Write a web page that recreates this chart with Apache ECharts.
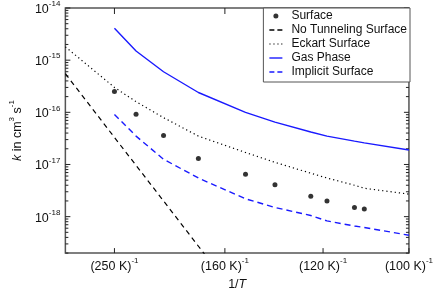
<!DOCTYPE html>
<html><head><meta charset="utf-8">
<script src="https://cdn.jsdelivr.net/npm/echarts@6/dist/echarts.min.js"></script>
<style>html,body{margin:0;padding:0;background:#fff}#c{width:436px;height:296px}</style>
</head><body><div id="c"></div>
<script>
// x axis unit: 1000/T (K^-1)
const xMin = 3, xMax = 10;
const xTickValues = [4.0, 6.25, 8.25, 10.0];
const xTickLabels = ['250', '160', '120', '100'];
const yMin = 2e-19, yMax = 1e-14;
const yMajorTicks = [1e-18, 1e-17, 1e-16, 1e-15, 1e-14];

const surfaceX = [4.0, 4.44, 5.0, 5.71, 6.67, 7.27, 8.0, 8.33, 8.89, 9.09];
const surfaceY = [2.5e-16, 9.2e-17, 3.6e-17, 1.3e-17, 6.5e-18, 4.1e-18, 2.45e-18, 2.0e-18, 1.5e-18, 1.4e-18];

const noTunnelX = [3.0, 4.0, 5.0, 6.0];
const noTunnelY = [5.5e-16, 3.3e-17, 2.0e-18, 1.2e-19];

const eckartX = [3.0, 4.0, 4.44, 5.0, 5.71, 6.67, 7.27, 8.0, 8.33, 8.89, 9.09, 10.0];
const eckartY = [1.8e-15, 3.0e-16, 1.6e-16, 7.9e-17, 3.5e-17, 1.7e-17, 1.1e-17, 6.8e-18, 5.5e-18, 4.0e-18, 3.5e-18, 2.7e-18];

const gasX = [4.0, 4.44, 5.0, 5.71, 6.67, 7.27, 8.0, 8.33, 8.89, 9.09, 10.0];
const gasY = [4.1e-15, 1.5e-15, 6.0e-16, 2.4e-16, 1.0e-16, 6.5e-17, 4.2e-17, 3.5e-17, 2.8e-17, 2.6e-17, 1.9e-17];

const implicitX = [4.0, 4.44, 5.0, 5.71, 6.67, 7.27, 8.0, 8.33, 8.89, 9.09, 10.0];
const implicitY = [9.1e-17, 3.5e-17, 1.26e-17, 5.5e-18, 2.2e-18, 1.5e-18, 1.05e-18, 8.3e-19, 6.6e-19, 6.2e-19, 4.4e-19];

// minor log ticks 2..9 × 10^n inside the y range
const yMinorTicks = [];
for (let e = -19; e <= -15; e++) for (let m = 2; m <= 9; m++) {
  const v = m * Math.pow(10, e);
  if (v >= yMin && v <= yMax) yMinorTicks.push(v);
}
const pair = (xs, ys) => xs.map((x, i) => [x, ys[i]]);

const FONT = 'Liberation Sans, Arial, sans-serif';
const TXT = '#111', AX = '#555', TK = '#222', BLUE = '#1a1aff';
const supRich = {
  base: {fontSize: 12.5, fontFamily: FONT, color: TXT, verticalAlign: 'bottom', lineHeight: 16},
  sup: {fontSize: 8, fontFamily: FONT, color: TXT, verticalAlign: 'top', lineHeight: 16},
  it: {fontSize: 12.5, fontFamily: FONT, color: TXT, fontStyle: 'italic', verticalAlign: 'bottom', lineHeight: 16}
};

// tick marks drawn through the axes' scales (inside, mirrored on both sides)
function xTickSeries(len) {
  return {
    type: 'custom', silent: true, clip: false, z: 3,
    data: xTickValues.map(v => [v, yMax]),
    renderItem: (params, api) => {
      const v = api.value(0);
      const b = api.coord([v, yMin]), t = api.coord([v, yMax]);
      return {type: 'group', children: [
        {type: 'line', shape: {x1: b[0], y1: b[1], x2: b[0], y2: b[1] - len}, style: {stroke: TK, lineWidth: 1}},
        {type: 'line', shape: {x1: t[0], y1: t[1], x2: t[0], y2: t[1] + len + 1}, style: {stroke: TK, lineWidth: 1}}
      ]};
    }
  };
}
function yTickSeries(values, len) {
  return {
    type: 'custom', silent: true, clip: false, z: 3,
    data: values.map(v => [xMin, v]),
    renderItem: (params, api) => {
      const v = api.value(1);
      const l = api.coord([xMin, v]), r = api.coord([xMax, v]);
      return {type: 'group', children: [
        {type: 'line', shape: {x1: l[0], y1: l[1], x2: l[0] + len, y2: l[1]}, style: {stroke: TK, lineWidth: 1}},
        {type: 'line', shape: {x1: r[0], y1: r[1], x2: r[0] - len, y2: r[1]}, style: {stroke: TK, lineWidth: 1}}
      ]};
    }
  };
}

const chart = echarts.init(document.getElementById('c'));
chart.setOption({
  animation: false,
  backgroundColor: '#fff',
  grid: {left: 49, right: 25.5, top: 8, bottom: 34, show: true, borderColor: AX, borderWidth: 1.5, backgroundColor: 'transparent'},
  xAxis: {
    type: 'value', min: xMin, max: xMax,
    name: '{base|1/}{it|T}', nameLocation: 'middle', nameGap: 21,
    nameTextStyle: {rich: supRich},
    axisLine: {show: false}, axisTick: {show: false},
    axisLabel: {
      show: true, customValues: xTickValues, margin: 4, rich: supRich,
      formatter: v => {
        const i = xTickValues.findIndex(t => Math.abs(t - v) < 1e-6);
        return '{base|(' + xTickLabels[i] + ' K)}{sup|-1}';
      }
    },
    splitLine: {show: false}
  },
  yAxis: {
    type: 'log', min: yMin, max: yMax,
    name: '{it|k}{base| in cm}{sup|3}{base| s}{sup|-1}', nameLocation: 'middle', nameGap: 34, nameRotate: 90,
    nameTextStyle: {rich: supRich},
    axisLine: {show: false}, axisTick: {show: false}, minorTick: {show: false},
    axisLabel: {
      show: true, customValues: yMajorTicks, margin: 5, rich: supRich,
      formatter: v => '{base|10}{sup|' + Math.round(Math.log10(v)) + '}'
    },
    splitLine: {show: false}
  },
  legend: {
    orient: 'vertical', right: 26, top: 8, z: 20,
    backgroundColor: '#fff', borderColor: '#555', borderWidth: 1, borderRadius: 0,
    padding: [1, 3, 3, 6], itemGap: 0, itemWidth: 13, itemHeight: 5, symbolKeepAspect: true,
    textStyle: {fontFamily: FONT, fontSize: 12, color: TXT, lineHeight: 14, padding: [0, 0, 0, 4]},
    data: [
      {name: 'Surface', icon: 'circle'},
      {name: 'No Tunneling Surface', icon: 'path://M0,0H5V1.3H0Z M8,0H13V1.3H8Z'},
      {name: 'Eckart Surface', icon: 'path://M0,0H1.2V1.2H0Z M4,0H5.2V1.2H4Z M8,0H9.2V1.2H8Z M11.8,0H13V1.2H11.8Z'},
      {name: 'Gas Phase', icon: 'path://M0,0H13V1.4H0Z'},
      {name: 'Implicit Surface', icon: 'path://M0,0H5V1.4H0Z M8,0H13V1.4H8Z'}
    ]
  },
  series: [
    {name: 'Surface', type: 'scatter', data: pair(surfaceX, surfaceY), symbol: 'circle', symbolSize: 5,
     itemStyle: {color: '#000'}, z: 3},
    {name: 'No Tunneling Surface', type: 'line', data: pair(noTunnelX, noTunnelY), symbol: 'none',
     lineStyle: {color: '#000', width: 1.2, type: [5, 4]}, itemStyle: {color: '#000'}},
    {name: 'Eckart Surface', type: 'line', data: pair(eckartX, eckartY), symbol: 'none',
     lineStyle: {color: '#000', width: 1.2, type: [1.2, 3]}, itemStyle: {color: '#000'}},
    {name: 'Gas Phase', type: 'line', data: pair(gasX, gasY), symbol: 'none',
     lineStyle: {color: BLUE, width: 1.4}, itemStyle: {color: BLUE}},
    {name: 'Implicit Surface', type: 'line', data: pair(implicitX, implicitY), symbol: 'none',
     lineStyle: {color: BLUE, width: 1.4, type: [6, 4]}, itemStyle: {color: BLUE}},
    xTickSeries(5),
    yTickSeries(yMajorTicks, 5),
    yTickSeries(yMinorTicks, 3)
  ]
});
</script></body></html>
